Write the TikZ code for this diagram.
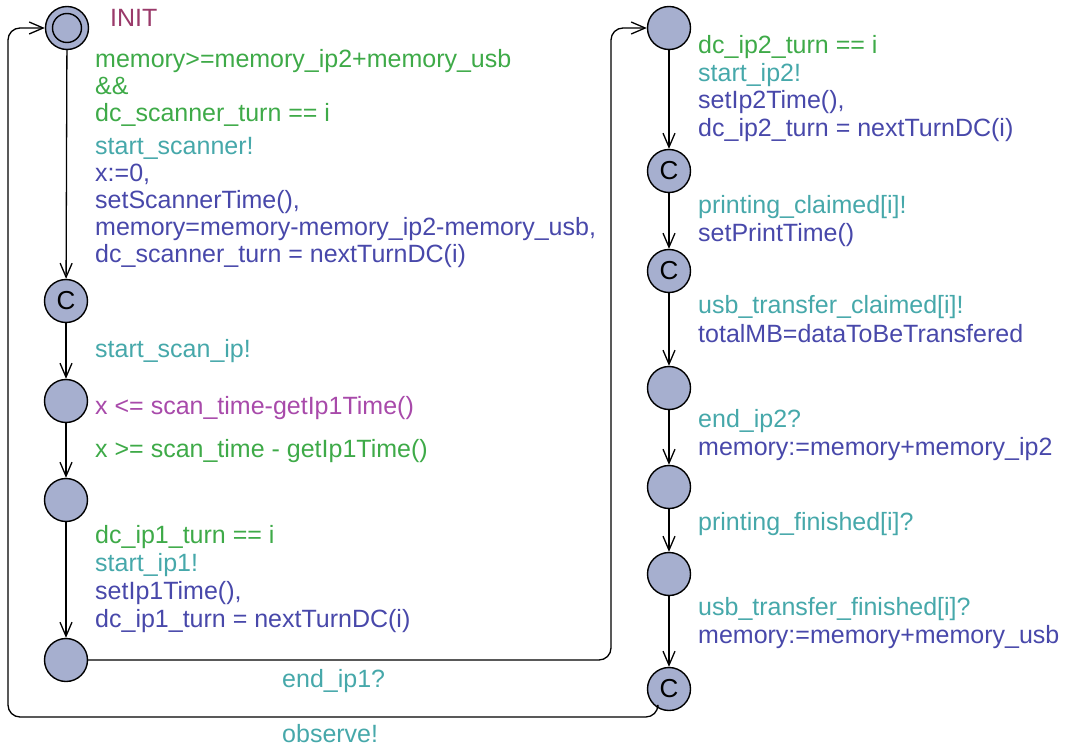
\documentclass[tikz,border=0pt]{standalone}
\usepackage{fontspec}
\setmainfont{Liberation Sans}
\usetikzlibrary{arrows.meta}
\definecolor{locfill}{RGB}{166,175,207}
\definecolor{guardc}{RGB}{62,170,72}
\definecolor{syncc}{RGB}{70,168,170}
\definecolor{updc}{RGB}{72,72,170}
\definecolor{invc}{RGB}{168,74,170}
\definecolor{namec}{RGB}{154,58,106}
\begin{document}
\begin{tikzpicture}[x=1pt,y=-1pt,
  loc/.style={circle,draw=black,line width=1.4pt,fill=locfill,minimum size=43pt,inner sep=0pt},
  initloc/.style={loc,path picture={\draw[line width=1.4pt] (path picture bounding box.center) circle (14.5pt);}},
  comm/.style={loc,font=\fontsize{26}{26}\selectfont},
  edge/.style={line width=1.3pt,-{Straight Barb[length=14pt,width=12pt,line width=1.3pt]}},
  lbl/.style={anchor=base west,inner sep=0pt,font=\fontsize{25}{27}\selectfont},
  grd/.style={lbl,text=guardc},
  syn/.style={lbl,text=syncc},
  upd/.style={lbl,text=updc},
  inv/.style={lbl,text=invc},
  nam/.style={lbl,text=namec}]
\useasboundingbox (0,0) rectangle (1065,751);
% locations
\node[initloc] (init) at (67,28) {};
\node[comm] (c1) at (66,301) {C};
\node[loc] (l3) at (66,401) {};
\node[loc] (l4) at (66,500) {};
\node[loc] (l5) at (66,660) {};
\node[loc] (r1) at (669,28) {};
\node[comm] (r2) at (669,171) {C};
\node[comm] (r3) at (669,271) {C};
\node[loc] (r4) at (669,388) {};
\node[loc] (r5) at (669,487) {};
\node[loc] (r6) at (669,574) {};
\node[comm] (r7) at (669,689) {C};
\coordinate (up1) at (611,28);
\coordinate (low) at (8,717);
% edges
\draw[edge] (init) -- (c1);
\draw[edge] (c1) -- (l3);
\draw[edge] (l3) -- (l4);
\draw[edge] (l4) -- (l5);
\draw[edge,rounded corners=12pt] (l5.east) -| (up1) -- (r1.west);
\draw[edge] (r1) -- (r2);
\draw[edge] (r2) -- (r3);
\draw[edge] (r3) -- (r4);
\draw[edge] (r4) -- (r5);
\draw[edge] (r5) -- (r6);
\draw[edge] (r6) -- (r7);
\draw[edge,rounded corners=12pt] (r7.240) |- (low) |- (init.west);
% labels
\node[nam] (tinit) at (110,27) {INIT};
\node[grd] (g1a) at (95,68) {memory>=memory\_ip2+memory\_usb};
\node[grd] (g1b) at (95,95) {\&\&};
\node[grd] (g1c) at (95,122) {dc\_scanner\_turn == i};
\node[syn] (s1) at (95,155) {start\_scanner!};
\node[upd] (u1a) at (95,182) {x:=0,};
\node[upd] (u1b) at (95,209) {setScannerTime(),};
\node[upd] (u1c) at (95,236) {memory=memory-memory\_ip2-memory\_usb,};
\node[upd] (u1d) at (95,263) {dc\_scanner\_turn = nextTurnDC(i)};
\node[syn] (s2) at (95,357) {start\_scan\_ip!};
\node[inv] (i3) at (95,414) {x <= scan\_time-getIp1Time()};
\node[grd] (g3) at (95,457) {x >= scan\_time - getIp1Time()};
\node[grd] (g4) at (95,543) {dc\_ip1\_turn == i};
\node[syn] (s4) at (95,571) {start\_ip1!};
\node[upd] (u4a) at (95,599) {setIp1Time(),};
\node[upd] (u4b) at (95,627) {dc\_ip1\_turn = nextTurnDC(i)};
\node[syn] (s5) at (282,687) {end\_ip1?};
\node[syn] (s7) at (282,742) {observe!};
\node[grd] (gr1) at (698,54) {dc\_ip2\_turn == i};
\node[syn] (sr1) at (698,82) {start\_ip2!};
\node[upd] (ur1a) at (698,109) {setIp2Time(),};
\node[upd] (ur1b) at (698,137) {dc\_ip2\_turn = nextTurnDC(i)};
\node[syn] (sr2) at (698,214) {printing\_claimed[i]!};
\node[upd] (ur2) at (698,242) {setPrintTime()};
\node[syn] (sr3) at (698,313) {usb\_transfer\_claimed[i]!};
\node[upd] (ur3) at (698,342) {totalMB=dataToBeTransfered};
\node[syn] (sr4) at (698,427) {end\_ip2?};
\node[upd] (ur4) at (698,455) {memory:=memory+memory\_ip2};
\node[syn] (sr5) at (698,530) {printing\_finished[i]?};
\node[syn] (sr6) at (698,615) {usb\_transfer\_finished[i]?};
\node[upd] (ur6) at (698,643) {memory:=memory+memory\_usb};
\end{tikzpicture}
\end{document}
